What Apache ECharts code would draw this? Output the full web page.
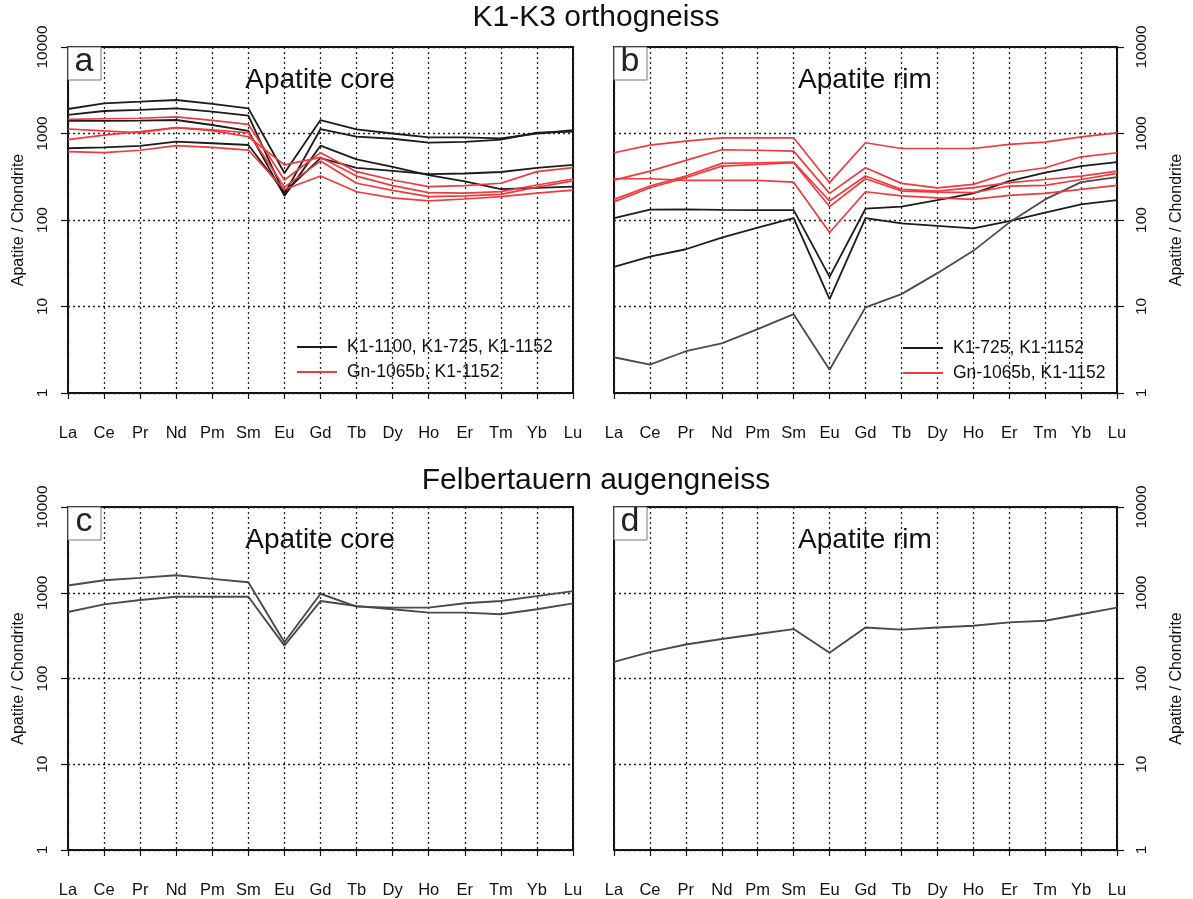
<!DOCTYPE html>
<html>
<head>
<meta charset="utf-8">
<script src="https://cdn.jsdelivr.net/npm/echarts@6/dist/echarts.min.js"></script>
<style>
  html, body { margin: 0; padding: 0; background: #ffffff; }
  #chart { width: 1193px; height: 899px; }
</style>
</head>
<body>
<div id="chart"></div>
<script>
// Rare earth elements, chondrite-normalised apatite compositions
const elements = ['La', 'Ce', 'Pr', 'Nd', 'Pm', 'Sm', 'Eu', 'Gd', 'Tb', 'Dy', 'Ho', 'Er', 'Tm', 'Yb', 'Lu'];

// (a) K1-K3 orthogneiss, apatite cores
const coreK1Black = [
  [1920, 2235, 2330, 2440, 2200, 1950, 350, 1430, 1117, 1000, 904, 900, 880, 1000, 1090],
  [1640, 1820, 1880, 1950, 1790, 1607, 200, 1127, 918, 870, 783, 800, 850, 1020, 1050],
  [1405, 1400, 1410, 1432, 1254, 1070, 190, 723, 503, 410, 331, 280, 227, 235, 243],
  [675, 690, 720, 804, 771, 736, 210, 520, 400, 370, 340, 345, 359, 400, 433]
];
const coreK1Red = [
  [1460, 1480, 1500, 1560, 1420, 1277, 290, 600, 362, 290, 243, 250, 266, 362, 403],
  [1127, 1070, 1020, 1167, 1080, 918, 433, 530, 322, 250, 207, 205, 213, 254, 298],
  [850, 960, 1050, 1167, 1100, 1020, 240, 480, 266, 220, 186, 190, 198, 240, 283],
  [617, 600, 640, 723, 690, 644, 225, 323, 212, 180, 166, 175, 186, 205, 222]
];

// (b) K1-K3 orthogneiss, apatite rims
const rimK1Black = [
  [105, 132, 133, 131, 130, 130, 22, 135, 143, 170, 203, 282, 352, 420, 467],
  [28.7, 37.8, 45.9, 62.7, 81.7, 105, 12.2, 105, 91.6, 85.3, 80.2, 97.3, 122, 152, 170]
];
const rimK1Grey = [2.59, 2.13, 3.04, 3.75, 5.48, 8.16, 1.86, 9.77, 13.9, 24.3, 44, 93.3, 173, 274, 313];
const rimK1Red = [
  [599, 733, 815, 892, 892, 892, 270, 782, 671, 671, 671, 747, 794, 916, 1019],
  [289, 367, 489, 649, 640, 625, 203, 402, 265, 235, 258, 352, 402, 538, 599],
  [300, 300, 287, 287, 287, 274, 71.6, 212, 190, 180, 173, 193, 203, 226, 251],
  [173, 247, 322, 451, 459, 467, 166, 322, 226, 216, 237, 270, 294, 322, 367],
  [162, 236, 308, 420, 440, 459, 143, 300, 216, 210, 207, 247, 251, 294, 346]
];

// (c) Felbertauern augengneiss, apatite cores
const coreFelber = [
  [1214, 1400, 1490, 1597, 1450, 1325, 265, 973, 689, 671, 671, 753, 800, 914, 1043],
  [597, 732, 822, 899, 899, 899, 242, 800, 701, 642, 587, 587, 562, 642, 753]
];

// (d) Felbertauern augengneiss, apatite rim
const rimFelber = [156, 203, 249, 289, 330, 377, 200, 394, 371, 394, 412, 451, 471, 562, 671];

// legend labels
const nameBlackA = 'K1-1100, K1-725, K1-1152';
const nameBlackB = 'K1-725, K1-1152';
const nameRed = 'Gn-1065b, K1-1152';

const FONT = "'Liberation Sans', Arial, Helvetica, sans-serif";
const BLACK = '#1c1c1c';
const GREY = '#4a4a4a';
const RED = '#ef3a3f';

const panels = [
  { left: 68, top: 47, width: 505, side: 'left' },
  { left: 614, top: 47, width: 503, side: 'right' },
  { left: 68, top: 507, width: 505, side: 'left' },
  { left: 614, top: 507, width: 503, side: 'right' }
];
const PANEL_H = 346;

const dotted = { type: [2, 3], color: '#222', width: 1.3 };

const grids = panels.map(p => ({
  left: p.left, top: p.top, width: p.width, height: PANEL_H,
  show: true, borderColor: '#111', borderWidth: 2, backgroundColor: 'transparent'
}));

const xAxes = panels.map((p, i) => ({
  gridIndex: i,
  type: 'category',
  data: elements,
  boundaryGap: false,
  axisLine: { show: false },
  axisTick: { show: true, length: 6, interval: 0, lineStyle: { color: '#111', width: 1.2 } },
  axisLabel: { interval: 0, margin: 32, fontFamily: FONT, fontSize: 16.5, color: '#111' },
  splitLine: { show: true, interval: 0, lineStyle: dotted }
}));

const yAxes = panels.map((p, i) => ({
  gridIndex: i,
  type: 'log',
  logBase: 10,
  min: 1,
  max: 10000,
  position: p.side,
  axisLine: { show: false },
  axisTick: { show: true, length: 7, lineStyle: { color: '#111', width: 1.2 } },
  axisLabel: {
    rotate: 90, margin: 17, fontFamily: FONT, fontSize: 15.5, color: '#111',
    showMinLabel: true, showMaxLabel: true,
    formatter: v => String(Math.round(v))
  },
  splitLine: { show: true, lineStyle: dotted },
  name: 'Apatite / Chondrite',
  nameLocation: 'middle',
  nameRotate: 90,
  nameGap: p.side === 'left' ? 41 : 52,
  nameTextStyle: { fontFamily: FONT, fontSize: 16, color: '#111' }
}));

function line(name, values, idx, color, width) {
  return {
    name: name,
    type: 'line',
    xAxisIndex: idx,
    yAxisIndex: idx,
    data: values,
    symbol: 'none',
    showSymbol: false,
    silent: true,
    lineStyle: { color: color, width: width },
    itemStyle: { color: color },
    emphasis: { disabled: true }
  };
}

const series = [];
coreK1Black.forEach(v => series.push(line(nameBlackA, v, 0, BLACK, 1.8)));
coreK1Red.forEach(v => series.push(line(nameRed, v, 0, RED, 1.7)));
rimK1Black.forEach(v => series.push(line(nameBlackB, v, 1, BLACK, 1.8)));
series.push(line(nameBlackB, rimK1Grey, 1, GREY, 1.8));
rimK1Red.forEach(v => series.push(line(nameRed, v, 1, RED, 1.7)));
coreFelber.forEach((v, k) => series.push(line('Felbertauern core ' + (k + 1), v, 2, GREY, 1.9)));
series.push(line('Felbertauern rim', rimFelber, 3, GREY, 1.9));

const legendText = { fontFamily: FONT, fontSize: 17.5, color: '#111', padding: [0, 0, 0, 5], lineHeight: 18 };
const legendBase = {
  orient: 'vertical', padding: 0, icon: 'rect', itemWidth: 40, itemHeight: 2,
  itemGap: 7, textStyle: legendText, selectedMode: false
};
const legends = [
  Object.assign({ data: [nameBlackA, nameRed], left: 297, top: 338 }, legendBase),
  Object.assign({ data: [nameBlackB, nameRed], left: 903, top: 339 }, legendBase)
];

function label(text, x, y, size) {
  return {
    type: 'text', x: x, y: y, z: 20,
    style: { text: text, font: size + 'px ' + FONT, fill: '#111', align: 'center', verticalAlign: 'middle' }
  };
}
function letterBox(letter, x, y) {
  return [
    { type: 'rect', z: 15, shape: { x: x, y: y, width: 33, height: 33 },
      style: { fill: '#fff', stroke: '#777', lineWidth: 1 } },
    { type: 'text', z: 16, x: x + 16, y: y + 15,
      style: { text: letter, font: '34px ' + FONT, fill: '#222', align: 'center', verticalAlign: 'middle' } }
  ];
}

const graphics = [
  label('K1-K3 orthogneiss', 596, 18, 30),
  label('Felbertauern augengneiss', 596, 481, 30),
  label('Apatite core', 320, 80, 28),
  label('Apatite rim', 865, 80, 28),
  label('Apatite core', 320, 540, 28),
  label('Apatite rim', 865, 540, 28),
  ...letterBox('a', 68, 47),
  ...letterBox('b', 614, 47),
  ...letterBox('c', 68, 507),
  ...letterBox('d', 614, 507)
];

const chart = echarts.init(document.getElementById('chart'), null, { renderer: 'canvas' });
chart.setOption({
  animation: false,
  backgroundColor: '#ffffff',
  textStyle: { fontFamily: FONT },
  grid: grids,
  xAxis: xAxes,
  yAxis: yAxes,
  legend: legends,
  series: series,
  graphic: { elements: graphics }
});
</script>
</body>
</html>
